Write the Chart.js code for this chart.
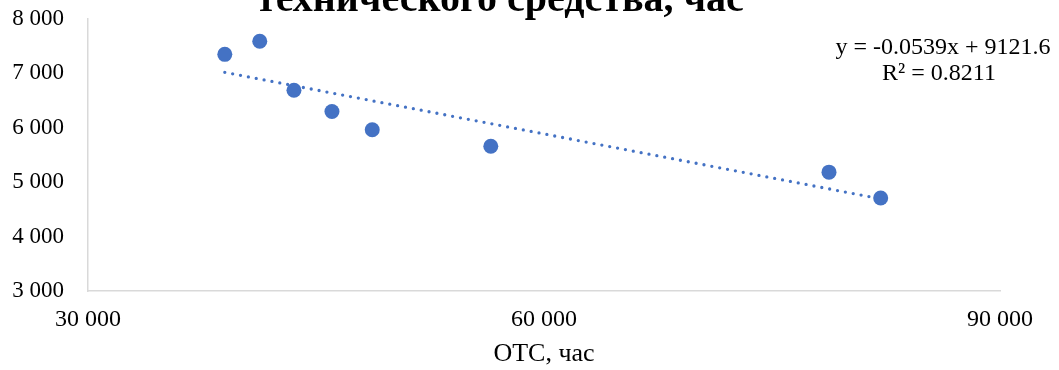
<!DOCTYPE html>
<html>
<head>
<meta charset="utf-8">
<script src="https://cdn.jsdelivr.net/npm/chart.js@4/dist/chart.umd.min.js"></script>
<style>
  html, body { margin: 0; padding: 0; background: #fff; }
  #wrap { width: 1059px; height: 370px; }
</style>
</head>
<body>
<div id="wrap"><canvas id="c" width="1059" height="370"></canvas></div>
<script>
// Operating time (OTC, hours) against the observed value for each unit
const otcHours = [39000, 41300, 43550, 46050, 48700, 56500, 78750, 82150];
const values   = [7350, 7590, 6690, 6300, 5965, 5660, 5185, 4710];

// Linear trend as reported in the equation label
const trendSlope = -0.0539;
const trendIntercept = 9121.6;
const trendR2 = 0.8211;

const xTicks = [30000, 60000, 90000];
const yTicks = [3000, 4000, 5000, 6000, 7000, 8000];

const titleText = 'технического средства, час';
const xAxisTitle = 'ОТС, час';

const blue = '#4472C4';
const serif = '"Liberation Serif", "Times New Roman", serif';

const fmt = v => String(v).replace(/\B(?=(\d{3})+(?!\d))/g, ' ');

const points = otcHours.map((x, i) => ({ x, y: values[i] }));
const xMin = Math.min(...otcHours), xMax = Math.max(...otcHours);
const trend = [xMin, xMax].map(x => ({ x, y: trendSlope * x + trendIntercept }));

// Draws the heading line and the trend equation box
const overlay = {
  id: 'overlay',
  afterDraw(chart) {
    const ctx = chart.ctx;
    ctx.save();
    ctx.fillStyle = '#000';
    ctx.textAlign = 'center';
    ctx.textBaseline = 'alphabetic';
    ctx.font = 'bold 40px ' + serif;
    ctx.fillText(titleText, 500, 11);

    ctx.font = '24px ' + serif;
    const eq = 'y = ' + trendSlope.toFixed(4) + 'x + ' + trendIntercept.toFixed(1);
    ctx.fillText(eq, 943, 54);
    ctx.fillText('R² = ' + trendR2.toFixed(4), 939, 80);
    ctx.restore();
  }
};

new Chart(document.getElementById('c'), {
  data: {
    datasets: [
      {
        type: 'scatter',
        data: points,
        backgroundColor: blue,
        borderWidth: 0,
        pointRadius: 7.5,
        pointHoverRadius: 7.5,
        order: 0
      },
      {
        type: 'line',
        data: trend,
        borderColor: blue,
        borderWidth: 3.3,
        borderDash: [0, 8],
        borderCapStyle: 'round',
        pointRadius: 0,
        fill: false,
        order: 1
      }
    ]
  },
  options: {
    responsive: false,
    animation: false,
    events: [],
    layout: { padding: { left: 0, right: 59, top: 19, bottom: 0 } },
    plugins: {
      legend: { display: false },
      tooltip: { enabled: false },
      title: { display: false }
    },
    scales: {
      x: {
        type: 'linear',
        min: 30000,
        max: 90000,
        afterBuildTicks: s => { s.ticks = xTicks.map(v => ({ value: v })); },
        afterFit: s => { s.height = 79; s.paddingLeft = 0; s.paddingRight = 0; },
        grid: { display: false, drawTicks: false },
        border: { display: true, color: '#d9d9d9', width: 1.5 },
        ticks: {
          color: '#000',
          font: { family: serif, size: 24 },
          padding: 14,
          maxRotation: 0,
          callback: v => fmt(v)
        },
        title: {
          display: true,
          text: xAxisTitle,
          color: '#000',
          font: { family: serif, size: 26 },
          padding: { top: 4, bottom: 0 }
        }
      },
      y: {
        type: 'linear',
        min: 3000,
        max: 8000,
        afterBuildTicks: s => { s.ticks = yTicks.map(v => ({ value: v })); },
        afterFit: s => { s.width = 88; s.paddingTop = 0; s.paddingBottom = 0; },
        grid: { display: false, drawTicks: false },
        border: { display: true, color: '#d9d9d9', width: 1.5 },
        ticks: {
          color: '#000',
          font: { family: serif, size: 23 },
          padding: 24,
          callback: v => fmt(v)
        }
      }
    }
  },
  plugins: [overlay]
});
</script>
</body>
</html>
